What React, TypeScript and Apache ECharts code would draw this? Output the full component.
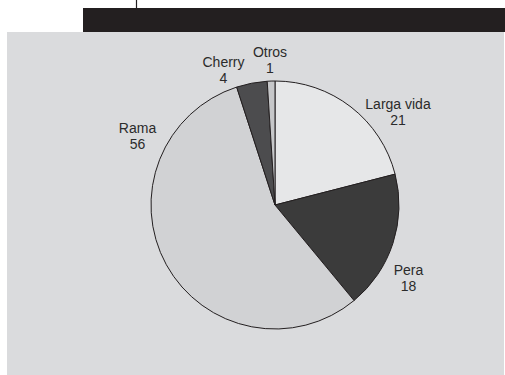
import React, { useEffect, useRef } from "react";
import * as echarts from "echarts";

const categories = ["Larga vida", "Pera", "Rama", "Cherry", "Otros"];
const values = [21, 18, 56, 4, 1];
const sliceColors = ["#e6e7e8", "#3b3b3b", "#d1d2d4", "#4c4c4e", "#c6c7c9"];
// label block centre offsets from the pie centre (layout, not data)
const labelOffsets: [number, number][] = [
  [123, -93],
  [133.5, 73],
  [-137.5, -69],
  [-51.5, -135],
  [-5, -145],
];

const CX = 275;
const CY = 205;

export default function App() {
  const ref = useRef<HTMLDivElement>(null);
  useEffect(() => {
    if (!ref.current) return;
    const chart = echarts.init(ref.current, undefined, { renderer: "svg" });
    chart.setOption({
      animation: false,
      backgroundColor: "#ffffff",
      graphic: [
        { type: "rect", shape: { x: 7, y: 32, width: 497, height: 343 }, style: { fill: "#dadbdd" }, z: -10 },
        { type: "rect", shape: { x: 83, y: 8, width: 422, height: 24 }, style: { fill: "#231f20" }, z: -10 },
        { type: "line", shape: { x1: 136.5, y1: 0, x2: 136.5, y2: 8 }, style: { stroke: "#231f20", lineWidth: 1.2 }, z: -10 },
      ],
      series: [
        {
          type: "pie",
          center: [CX, CY],
          radius: 124,
          startAngle: 90,
          clockwise: true,
          avoidLabelOverlap: false,
          label: {
            show: true,
            position: "outside",
            formatter: "{b}\n{c}",
            fontFamily: "'Liberation Sans', Arial, sans-serif",
            fontSize: 14,
            lineHeight: 16,
            color: "#2b2b2b",
          },
          labelLine: { show: false },
          labelLayout: (params: any) => {
            const off = labelOffsets[params.dataIndex];
            return {
              x: CX + off[0],
              y: CY + off[1],
              align: "center",
              verticalAlign: "middle",
            };
          },
          itemStyle: { borderColor: "#231f20", borderWidth: 1 },
          emphasis: { disabled: true },
          data: categories.map((name, i) => ({
            name,
            value: values[i],
            itemStyle: { color: sliceColors[i] },
          })),
        },
      ],
    });
    return () => chart.dispose();
  }, []);
  return (
    <div
      ref={ref}
      style={{ position: "absolute", left: 0, top: 0, width: 505, height: 375 }}
    />
  );
}
